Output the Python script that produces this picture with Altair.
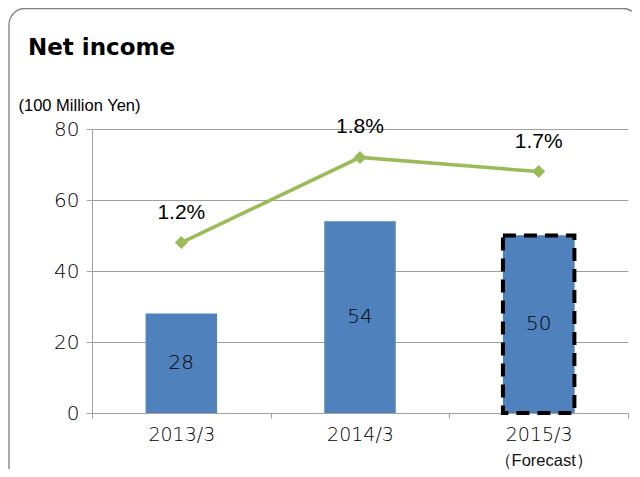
import altair as alt
import pandas as pd

# ---- data ----
years = ["2013/3", "2014/3", "2015/3"]
net_income = [28, 54, 50]            # 100 million yen (bars)
ratio = [1.2, 1.8, 1.7]              # percent (line)
ratio_labels = ["1.2%", "1.8%", "1.7%"]
notes = ["", "", "（Forecast）"]
y_ticks = [0, 20, 40, 60, 80]
title_text = ["Net income"]
unit_text = "(100 Million Yen)"

df = pd.DataFrame({
    "year": years,
    "income": net_income,
    "ratio": ratio,
    "ratio_label": ratio_labels,
    "note": notes,
})
df["mid"] = df["income"] / 2
title_df = pd.DataFrame({"t": title_text})

W, H = 536, 284
BLUE = "#4F81BD"
GREEN = "#9BBB59"
GRID = "#A0A0A0"
NUM_FONT = "DejaVu Sans"
LAT_FONT = "Liberation Sans"

x_enc = alt.X(
    "year:N", sort=years,
    scale=alt.Scale(paddingInner=0, paddingOuter=0),
    axis=alt.Axis(title=None, tickBand="extent", labelAngle=0, labelFont=NUM_FONT,
                  labelFontWeight=200, labelFontSize=19, labelColor="#000",
                  labelPadding=7, tickSize=5, tickColor=GRID, domainColor=GRID, grid=False),
)

y_left = alt.Scale(domain=[0, 80], nice=False, zero=True)
y_right = alt.Scale(domain=[0, 2], nice=False, zero=True)

base = alt.Chart(df)

bars = base.mark_bar(color=BLUE, width=alt.RelativeBandSize(0.4)).encode(
    x=x_enc,
    y=alt.Y("income:Q", scale=y_left,
            axis=alt.Axis(values=y_ticks, title=unit_text, titleAngle=0, titleAlign="left",
                          titleBaseline="middle", titleX=-74, titleY=-24, titleFont=LAT_FONT,
                          titleFontSize=16.5, titleFontWeight="normal", titleColor="#000",
                          labelFont=NUM_FONT, labelFontWeight=200, labelFontSize=20,
                          labelColor="#000", labelPadding=7, tickSize=6, tickColor=GRID,
                          domainColor=GRID, gridColor=GRID)),
)

dashed = base.transform_filter(alt.datum.note != "").mark_bar(
    color=BLUE, stroke="black", strokeWidth=4, strokeDash=[13, 8],
    width=alt.RelativeBandSize(0.4),
).encode(
    x=alt.X("year:N", sort=years),
    y=alt.Y("income:Q", scale=y_left, axis=None),
)

bar_labels = base.mark_text(font=NUM_FONT, fontWeight=200, fontSize=20, color="#000",
                            baseline="middle").encode(
    x=alt.X("year:N", sort=years),
    y=alt.Y("mid:Q", scale=y_left, axis=None),
    text="income:Q",
)

line = base.mark_line(color=GREEN, strokeWidth=3.5).encode(
    x=alt.X("year:N", sort=years),
    y=alt.Y("ratio:Q", scale=y_right, axis=None),
)

points = base.mark_point(shape="diamond", filled=True, color=GREEN, size=170, opacity=1).encode(
    x=alt.X("year:N", sort=years),
    y=alt.Y("ratio:Q", scale=y_right, axis=None),
)

line_labels = base.mark_text(font=LAT_FONT, fontSize=21, color="#000", dy=-30,
                             baseline="middle").encode(
    x=alt.X("year:N", sort=years),
    y=alt.Y("ratio:Q", scale=y_right, axis=None),
    text="ratio_label:N",
)

forecast = base.mark_text(font=LAT_FONT, fontSize=16.5, color="#111", dx=5,
                          baseline="bottom").encode(
    x=alt.X("year:N", sort=years),
    y=alt.value(H + 56),
    text="note:N",
)

title = alt.Chart(title_df).mark_text(font="DejaVu Sans", fontSize=23, fontWeight="bold",
                                      color="#000", align="left",
                                      baseline="alphabetic").encode(
    x=alt.value(-64), y=alt.value(-74), text="t:N",
)

border = alt.Chart(title_df).mark_rect(fill="transparent", stroke="#808080", strokeWidth=1.3,
                                       cornerRadius=16).encode(
    x=alt.value(-83), x2=alt.value(W + 11), y=alt.value(-120.5), y2=alt.value(H + 150),
)

chart = alt.layer(
    border, bars, dashed, bar_labels, line, points, line_labels, forecast, title
).resolve_scale(y="independent").properties(
    width=W, height=H,
    autosize=alt.AutoSizeParams(type="none"),
    padding={"left": 84, "top": 121, "right": 4, "bottom": 56},
    background="white",
).configure_view(stroke=None)

chart.save("out.html", embed_options={"renderer": "svg", "actions": False})
